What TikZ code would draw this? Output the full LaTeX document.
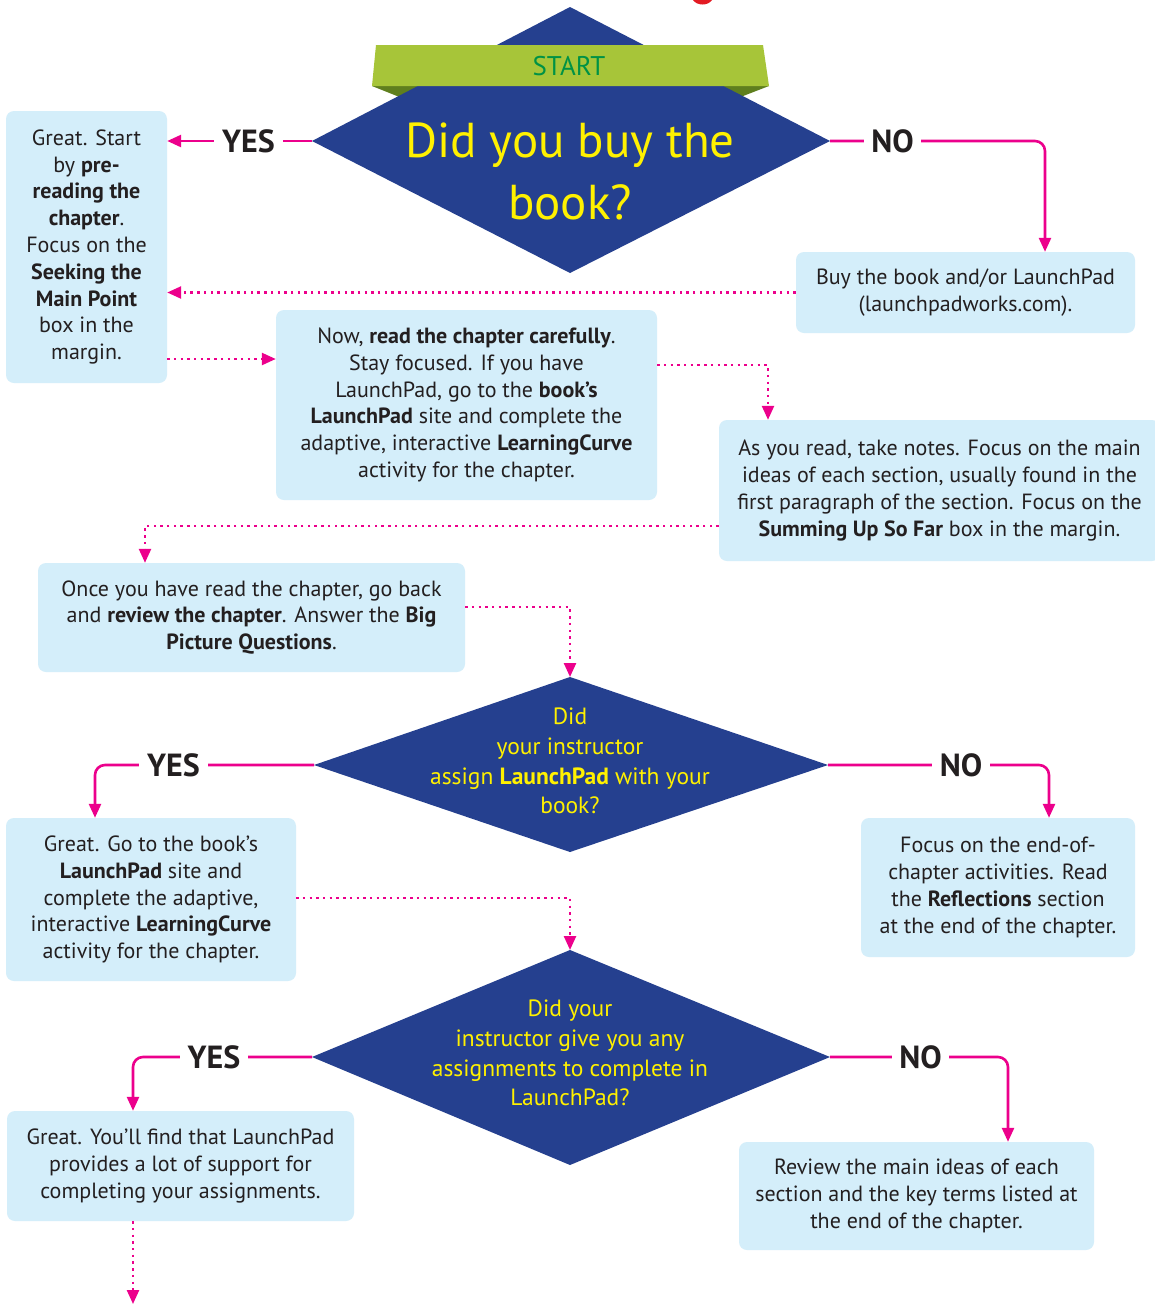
\documentclass[tikz,border=0pt]{standalone}
\usepackage{fontspec}
\setmainfont{PT Sans}
\usetikzlibrary{arrows.meta}
\definecolor{dblue}{HTML}{25408F}
\definecolor{dyellow}{HTML}{FFF100}
\definecolor{mpink}{HTML}{EC008C}
\definecolor{boxblue}{HTML}{D4EEFA}
\definecolor{bandgreen}{HTML}{A7C539}
\definecolor{foldgreen}{HTML}{5F7F1E}
\definecolor{startgreen}{HTML}{009245}
\definecolor{ink}{HTML}{231F20}
\definecolor{titlered}{HTML}{E31B23}
\begin{document}
\begin{tikzpicture}[x=1pt,y=-1pt,
  box/.style={rectangle, rounded corners=8pt, fill=boxblue, text=ink, align=center, inner sep=0pt, font=\fontsize{22}{26.8}\selectfont},
  lbl/.style={fill=white, inner xsep=8pt, inner ysep=2pt, text=ink, font=\bfseries\fontsize{32}{32}\selectfont},
  solidarrow/.style={draw=mpink, line width=2.6pt, rounded corners=10pt, -{Triangle[length=14pt,width=12pt]}},
  dotarrow/.style={draw=mpink, line width=2.4pt, dash pattern=on 2.4pt off 4.3pt, -{Triangle[length=14pt,width=12pt]}},
  dtext/.style={text=dyellow, align=center, inner sep=0pt}]
\useasboundingbox (0,0) rectangle (1155,1304);
\clip (0,0) rectangle (1155,1304);
\fill[white] (0,0) rectangle (1155,1304);

% fragment of red title at top
\fill[titlered] (693,0) .. controls (697,6) and (708,6) .. (712,0) -- cycle;

% ---------- diamond 1 with START band ----------
\coordinate (d1t) at (570,7);
\coordinate (d1r) at (830,141);
\coordinate (d1b) at (570,273);
\coordinate (d1l) at (312,141);
\fill[foldgreen] (372,86) -- (425,86) -- (402,98) -- cycle;
\fill[foldgreen] (769,86) -- (716,86) -- (738,98) -- cycle;
\fill[dblue] (d1t) -- (d1r) -- (d1b) -- (d1l) -- cycle;
\fill[bandgreen] (376,45) -- (763,45) -- (769,86) -- (372,86) -- cycle;
\node[text=startgreen, inner sep=0pt, font=\fontsize{27}{27}\selectfont] (start) at (569,66) {START};
\node[dtext, font=\fontsize{49}{62}\selectfont] (q1) at (570,171) {Did you buy the\\book?};

% ---------- diamond 2 ----------
\coordinate (d2t) at (570,677);
\coordinate (d2r) at (828,765);
\coordinate (d2b) at (570,852);
\coordinate (d2l) at (314,765);
\fill[dblue] (d2t) -- (d2r) -- (d2b) -- (d2l) -- cycle;
\node[dtext, font=\fontsize{23.5}{29.7}\selectfont] (q2) at (570,761) {Did\\your instructor\\assign \textbf{LaunchPad} with your\\book?};

% ---------- diamond 3 ----------
\coordinate (d3t) at (570,950);
\coordinate (d3r) at (830,1057);
\coordinate (d3b) at (570,1165);
\coordinate (d3l) at (312,1057);
\fill[dblue] (d3t) -- (d3r) -- (d3b) -- (d3l) -- cycle;
\node[dtext, font=\fontsize{23.5}{29.7}\selectfont] (q3) at (570,1053) {Did your\\instructor give you any\\assignments to complete in\\LaunchPad?};

% ---------- boxes ----------
\node[box, minimum width=161pt, minimum height=272pt] (b1) at (86.5,247)
  {Great. Start\\by \textbf{pre-}\\\textbf{reading the}\\\textbf{chapter}.\\Focus on the\\\textbf{Seeking the}\\\textbf{Main Point}\\box in the\\margin.};
\node[box, minimum width=339pt, minimum height=81pt] (buy) at (965.5,292.5)
  {Buy the book and/or LaunchPad\\(launchpadworks.com).};
\node[box, minimum width=381pt, minimum height=190pt] (b2) at (466.5,405)
  {Now, \textbf{read the chapter carefully}.\\Stay focused. If you have\\LaunchPad, go to the \textbf{book’s}\\\textbf{LaunchPad} site and complete the\\adaptive, interactive \textbf{LearningCurve}\\activity for the chapter.};
\node[box, minimum width=441pt, minimum height=141pt] (b3) at (939.5,490.5)
  {As you read, take notes. Focus on the main\\ideas of each section, usually found in the\\first paragraph of the section. Focus on the\\\textbf{Summing Up So Far} box in the margin.};
\node[box, minimum width=427pt, minimum height=109pt] (b4) at (251.5,617.5)
  {Once you have read the chapter, go back\\and \textbf{review the chapter}. Answer the \textbf{Big}\\\textbf{Picture Questions}.};
\node[box, minimum width=290pt, minimum height=163pt] (b5) at (151,899.5)
  {Great. Go to the book’s\\\textbf{LaunchPad} site and\\complete the adaptive,\\interactive \textbf{LearningCurve}\\activity for the chapter.};
\node[box, minimum width=274pt, minimum height=139pt] (b6) at (998,887.5)
  {Focus on the end-of-\\chapter activities. Read\\the \textbf{Reflections} section\\at the end of the chapter.};
\node[box, minimum width=347pt, minimum height=110pt] (b7) at (180.5,1166)
  {Great. You’ll find that LaunchPad\\provides a lot of support for\\completing your assignments.};
\node[box, minimum width=355pt, minimum height=108pt] (b8) at (916.5,1196)
  {Review the main ideas of each\\section and the key terms listed at\\the end of the chapter.};

% ---------- solid connectors ----------
\draw[solidarrow] (d1l) -- (b1.east |- d1l);
\node[lbl] (yes1) at (248.5,141) {YES};

\coordinate (no1c) at (1045,141);
\draw[solidarrow] (d1r) -- (no1c) -- (buy.north -| no1c);
\node[lbl, inner xsep=7.5pt] (no1) at (892.5,141) {NO};

\coordinate (yes2c) at (95,765);
\draw[solidarrow] (d2l) -- (yes2c) -- (b5.north -| yes2c);
\node[lbl] (yes2) at (173.5,765) {YES};

\coordinate (no2c) at (1049,765);
\draw[solidarrow] (d2r) -- (no2c) -- (b6.north -| no2c);
\node[lbl, inner xsep=7.5pt] (no2) at (961,765) {NO};

\coordinate (yes3c) at (133,1057);
\draw[solidarrow] (d3l) -- (yes3c) -- (b7.north -| yes3c);
\node[lbl] (yes3) at (214,1057) {YES};

\coordinate (no3c) at (1008,1057);
\draw[solidarrow] (d3r) -- (no3c) -- (b8.north -| no3c);
\node[lbl, inner xsep=7.5pt] (no3) at (920.5,1057) {NO};

% ---------- dotted connectors ----------
\draw[dotarrow] (buy.west) -- (b1.east |- buy.west);
\draw[dotarrow] (b1.east |- 0,359) -- (b2.west |- 0,359);
\draw[dotarrow] (b2.east |- 0,365) -| (b3.north -| 768,0);
\draw[dotarrow] (b3.west |- 0,526) -| (b4.north -| 145,0);
\draw[dotarrow] (b4.east |- 0,607) -| (d2t);
\draw[dotarrow] (b5.east |- 0,898) -| (d3t);
\coordinate (endc) at (133,1304);
\draw[dotarrow] (b7.south -| endc) -- (endc);
\end{tikzpicture}
\end{document}
